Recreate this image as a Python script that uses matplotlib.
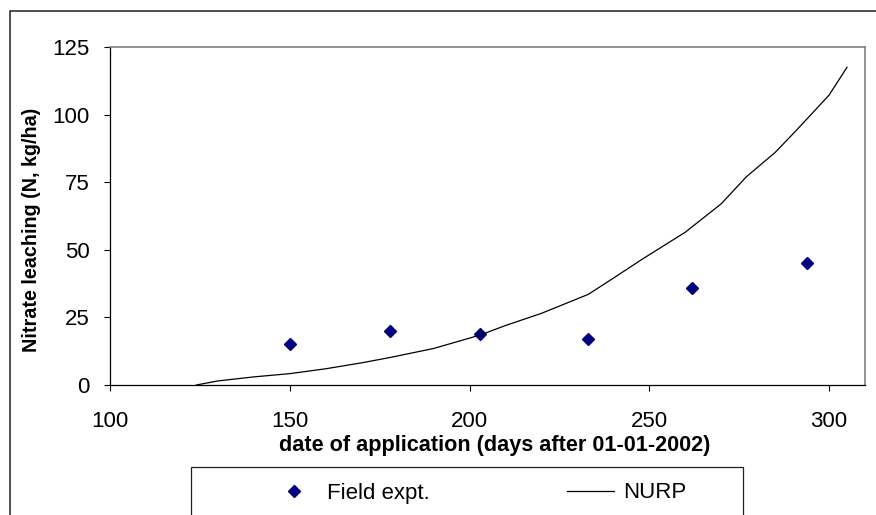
import matplotlib
matplotlib.use("Agg")
import matplotlib.pyplot as plt
from matplotlib.patches import Rectangle

plt.rcParams['font.family'] = ['Liberation Sans', 'DejaVu Sans']

# Field experiment data
field_days = [150, 178, 203, 233, 262, 294]
field_leach = [15, 20, 19, 17, 36, 45]

# NURP model curve
nurp_days = [124, 130, 140, 150, 160, 170, 178, 190, 203, 210, 220, 233,
             240, 248, 260, 270, 277, 285, 291, 300, 305]
nurp_leach = [0, 1.5, 3, 4.2, 6, 8.2, 10.2, 13.5, 18.5, 22, 26.5, 33.5,
              39.5, 46.5, 56.5, 67, 77, 86, 94.3, 107.2, 117.5]

xticks = [100, 150, 200, 250, 300]
yticks = [0, 25, 50, 75, 100, 125]

W, H = 876, 515
fig = plt.figure(figsize=(W / 100, H / 100), dpi=100)
ax = fig.add_axes([110 / W, 1 - 385 / H, 755 / W, 338 / H])

ax.plot(field_days, field_leach, linestyle='none', marker='D', ms=6,
        color='#000080', markeredgecolor='#000080', label='Field expt.')
ax.plot(nurp_days, nurp_leach, color='black', lw=0.9, label='NURP')

ax.set_xlim(100, 310)
ax.set_ylim(0, 125)
ax.set_xticks(xticks)
ax.set_yticks(yticks)
ax.tick_params(axis='both', direction='out', length=4.5, width=0.8,
               labelsize=16, colors='black')
ax.tick_params(axis='x', pad=14.3)
ax.tick_params(axis='y', pad=10)

for s in ['left', 'bottom']:
    ax.spines[s].set_color('black')
    ax.spines[s].set_linewidth(0.9)
for s in ['top', 'right']:
    ax.spines[s].set_color('#808080')
    ax.spines[s].set_linewidth(1.2)

ax.set_xlabel('date of application (days after 01-01-2002)', fontsize=15.6,
              fontweight='bold', labelpad=2)
ax.set_ylabel('Nitrate leaching (N, kg/ha)', fontsize=14.2,
              fontweight='bold', labelpad=8)
ax.xaxis.label.set_x(0.509)
ax.yaxis.label.set_y(0.4586)

# outer chart frame
fig.patches.append(Rectangle((9.5 / W, -0.05), 1.0, 1 - 11 / H + 0.05,
                             transform=fig.transFigure, fill=False,
                             edgecolor='#202020', lw=1.1))
# legend frame
fig.patches.append(Rectangle((191 / W, -0.05), (743 - 191) / W,
                             1 - 467 / H + 0.05, transform=fig.transFigure,
                             fill=False, edgecolor='#202020', lw=0.9))

fig.legend(loc='center left', bbox_to_anchor=(260 / W, 1 - 493 / H),
           ncol=2, frameon=False, fontsize=16, borderpad=0,
           handlelength=2.1, handletextpad=0.4, columnspacing=6.2)

fig.savefig('out.png', dpi=100)
